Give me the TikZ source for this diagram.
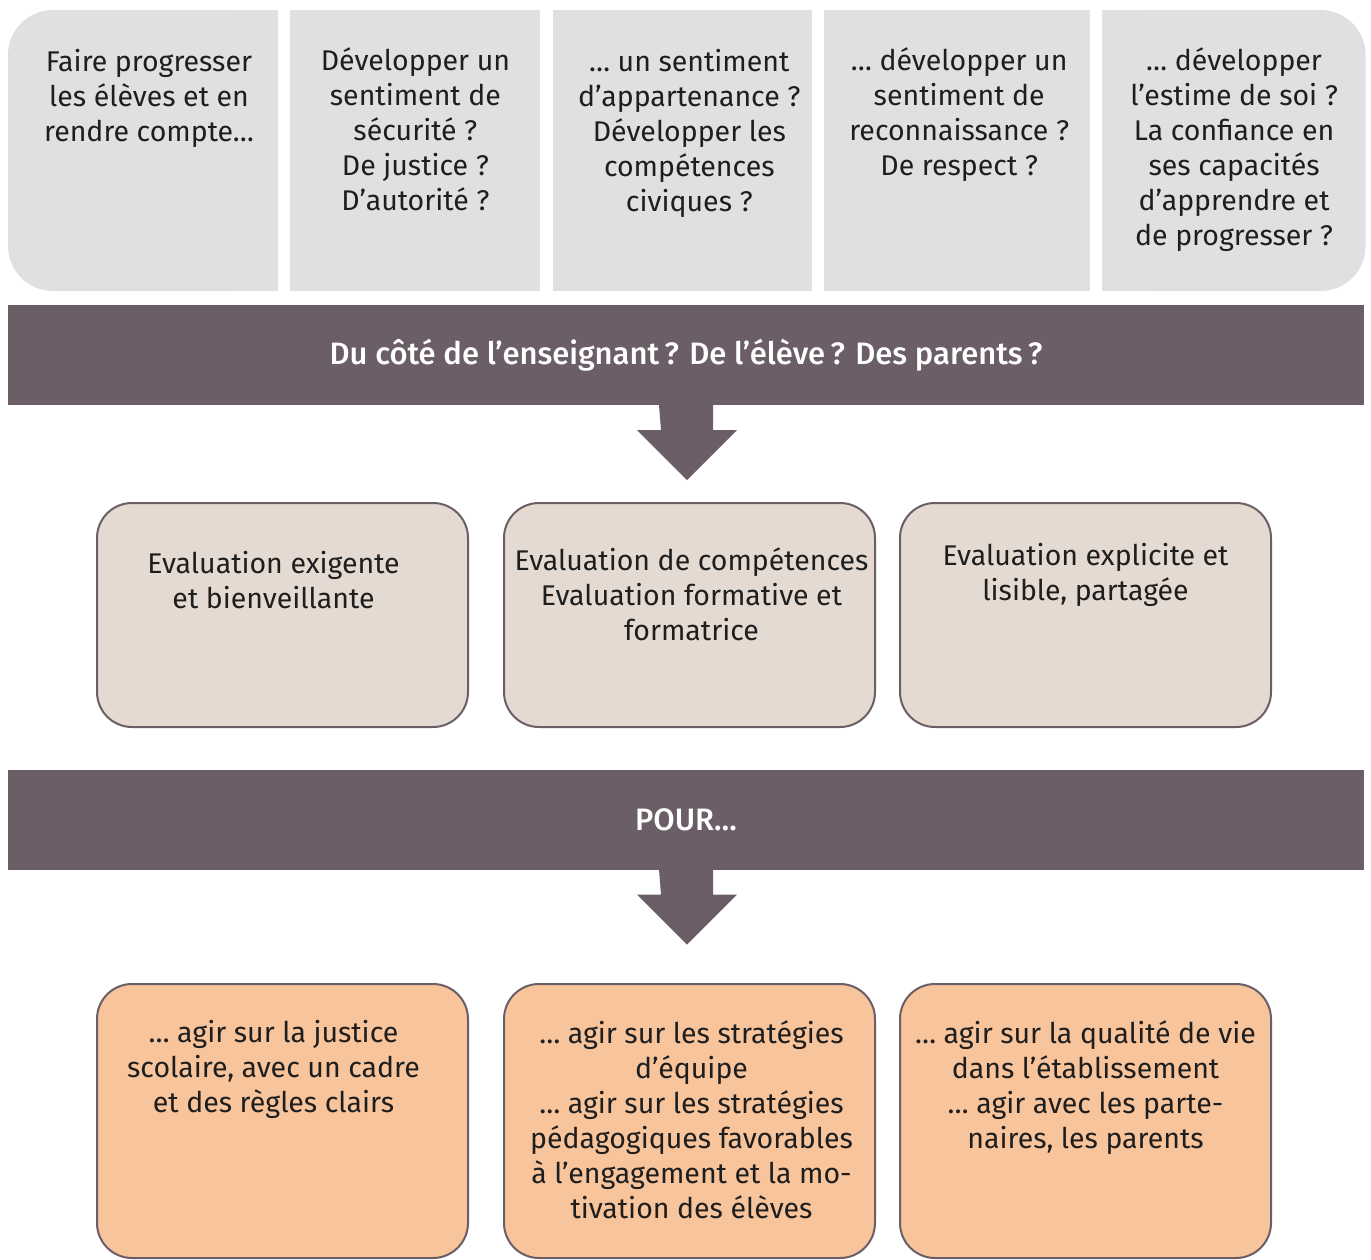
\documentclass[tikz,border=0pt]{standalone}
\usepackage{fontspec}
\setmainfont{Fira Sans}
\newfontfamily\barfont{Fira Sans Medium}
\usetikzlibrary{positioning}
\definecolor{topgray}{HTML}{E2DFE2}
\definecolor{barcol}{HTML}{6B5E66}
\definecolor{midfill}{HTML}{E5DAD2}
\definecolor{botfill}{HTML}{F8C49B}
\definecolor{txtcol}{HTML}{1E1E1E}
\tikzset{
every node/.style={font=\fontsize{28.5}{35}\selectfont, text=txtcol, align=center, inner sep=0pt},
col/.style={fill=topgray, minimum height=281pt},
qtext/.style={anchor=north},
bar/.style={fill=barcol, minimum width=1356pt, minimum height=100pt, text=white, font=\barfont\fontsize{31}{35}\selectfont},
evalbox/.style={draw=barcol, line width=2pt, rounded corners=35pt, fill=midfill, minimum width=371pt, minimum height=224pt},
actbox/.style={evalbox, fill=botfill, minimum height=274pt},
}

\begin{document}
\begin{tikzpicture}[x=1pt, y=-1pt]
    \useasboundingbox (0,0) rectangle (1371,1260);

    % questions
    \node[col, rounded corners=45pt, minimum width=270pt] (c1) at (143,150.5) {};
    \fill[topgray] (c1.north) rectangle (c1.south east);
    \node[col, minimum width=250pt, right=12pt of c1] (c2) {};
    \node[col, minimum width=259pt, right=12pt of c2] (c3) {};
    \node[col, minimum width=266pt, right=12pt of c3] (c4) {};
    \node[col, rounded corners=45pt, minimum width=263pt, right=12pt of c4] (c5) {};
    \fill[topgray] (c5.north west) rectangle (c5.south);

    \node[qtext, below=39pt of c1.north, xshift=6pt] (q1) {Faire progresser\\les élèves et en\\rendre compte…};
    \node[qtext, below=38pt of c2.north] (q2) {Développer un\\sentiment de\\sécurité ?\\De justice ?\\D’autorité ?};
    \node[qtext, below=39pt of c3.north, xshift=7pt] (q3) {… un sentiment\\d’appartenance ?\\Développer les\\compétences\\civiques ?};
    \node[qtext, below=38pt of c4.north, xshift=2pt] (q4) {… développer un\\sentiment de\\reconnaissance ?\\De respect ?};
    \node[qtext, below=38pt of c5.north] (q5) {… développer\\l’estime de soi ?\\La confiance en\\ses capacités\\d’apprendre et\\de progresser ?};

    % who
    \node[bar] (who) at (686,355) {Du côté de l’enseignant\,? De l’élève\,? Des parents\,?};
    \fill[barcol] (who.south) ++(-27,0) -- ++(54,0) -- ++(0,25) -- ++(24,0) -- ++(-50,50) -- ++(-50,-50) -- ++(24,0) -- cycle;

    % evaluation
    \node[evalbox] (m1) at (282.5,615) {};
    \node[evalbox, right=34pt of m1] (m2) {};
    \node[evalbox, right=23pt of m2] (m3) {};
    \node[qtext, below=49pt of m1.north, xshift=-9pt] (e1) {Evaluation exigente\\et bienveillante};
    \node[qtext, below=45pt of m2.north, xshift=2pt] (e2) {Evaluation de compétences\\Evaluation formative et\\formatrice};
    \node[qtext, below=41pt of m3.north] (e3) {Evaluation explicite et\\lisible, partagée};

    % pour
    \node[bar] (pour) at (686,819.5) {POUR…};
    \fill[barcol] (pour.south) ++(-27,0) -- ++(54,0) -- ++(0,25) -- ++(24,0) -- ++(-50,50) -- ++(-50,-50) -- ++(24,0) -- cycle;

    % actions
    \node[actbox] (b1) at (282.5,1121) {};
    \node[actbox, right=34pt of b1] (b2) {};
    \node[actbox, right=23pt of b2] (b3) {};
    \node[qtext, below=37pt of b1.north, xshift=-9pt] (a1) {… agir sur la justice\\scolaire, avec un cadre\\et des règles clairs};
    \node[qtext, below=37pt of b2.north, xshift=2pt] (a2) {… agir sur les stratégies\\d’équipe\\… agir sur les stratégies\\pédagogiques favorables\\à l’engagement et la mo-\\tivation des élèves};
    \node[qtext, below=37pt of b3.north] (a3) {… agir sur la qualité de vie\\dans l’établissement\\… agir avec les parte-\\naires, les parents};

\end{tikzpicture}
\end{document}
